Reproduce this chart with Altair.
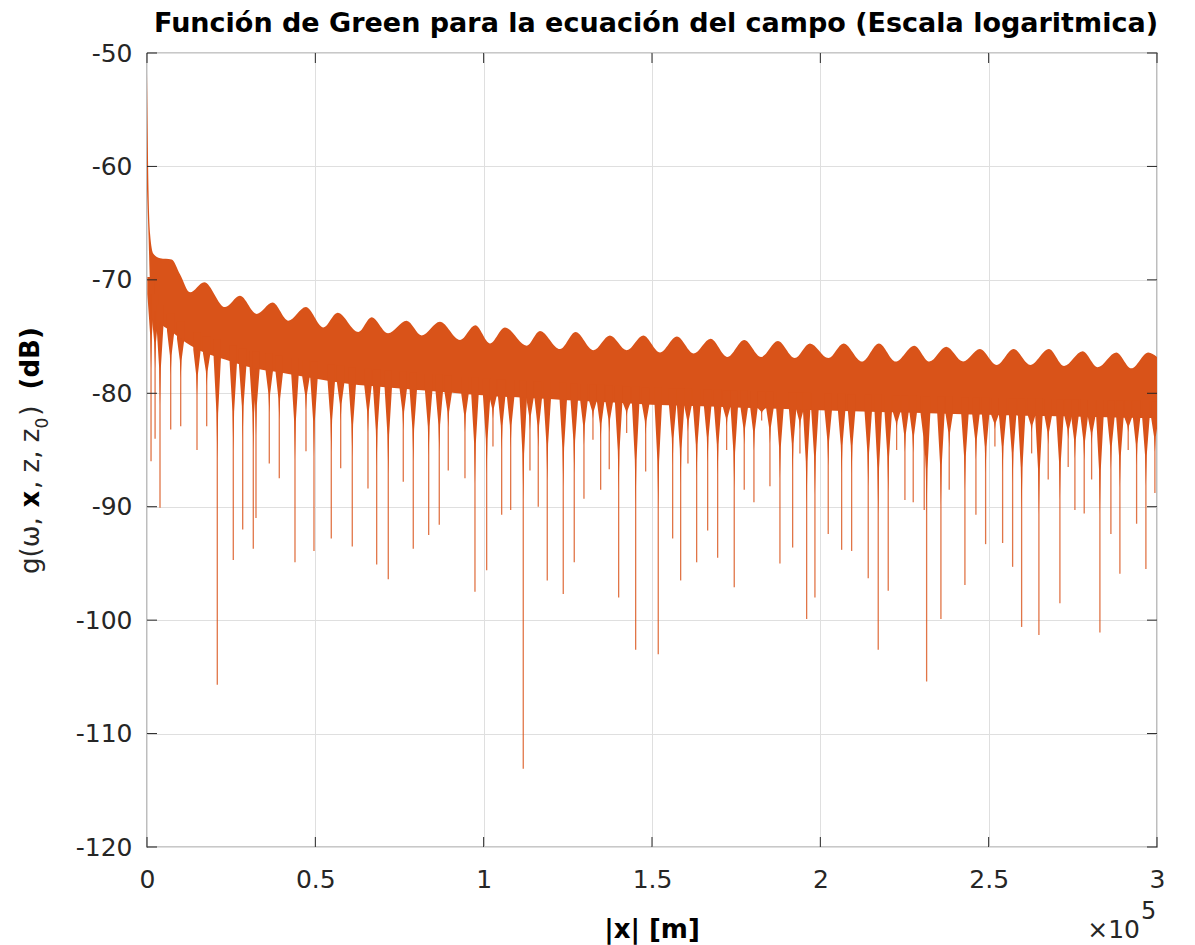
import altair as alt
import numpy as np
import pandas as pd

RED = "#D95319"
INK = "#262626"
GRID = "#DFDFDF"
FONT = "DejaVu Sans"

# axis ticks
x_ticks = [0, 50000, 100000, 150000, 200000, 250000, 300000]
y_ticks = [-120, -110, -100, -90, -80, -70, -60, -50]

# upper edge of the oscillating response (|x| in m, level in dB)
top_x = [0, 450, 900, 1900, 3900, 7300, 9800, 12800, 17000, 23200,
         27600, 32600, 37300, 42000, 47200, 52400, 56600, 62800, 66700, 71600,
         77100, 81600, 87000, 93000, 97500, 101900, 106300, 112800, 116700, 122700,
         127300, 132600, 137500, 142500, 147400, 152400, 157400, 162400, 167400, 172400,
         177400, 182400, 187400, 192400, 196900, 202400, 206900, 212400, 217400, 222400,
         227900, 232400, 237400, 242400, 247400, 252400, 257400, 262400, 267900, 272400,
         277900, 282400, 287900, 292400, 297400, 300000]
top_db = [-51.8, -62.1, -65.9, -67.7, -68.1, -68.2, -69.5, -71.1, -70.2, -72.4,
          -71.4, -73.0, -72.0, -73.6, -72.4, -74.2, -72.9, -74.6, -73.3, -74.7,
          -73.6, -74.9, -73.7, -75.3, -74.0, -75.6, -74.2, -75.8, -74.5, -76.1,
          -74.6, -76.2, -74.9, -76.2, -74.9, -76.4, -75.0, -76.5, -75.2, -76.8,
          -75.3, -76.8, -75.4, -76.9, -75.6, -76.9, -75.6, -77.2, -75.6, -77.2,
          -75.8, -77.2, -75.9, -77.2, -76.1, -77.5, -76.1, -77.5, -76.1, -77.6,
          -76.3, -77.7, -76.4, -77.8, -76.4, -76.8]

# lower edge of the solid part of the band
floor_x = [0, 1000, 3000, 10000, 15000, 30000, 60000, 100000, 150000, 200000, 250000, 300000]
floor_db = [-62.0, -71.0, -73.5, -75.2, -76.2, -77.7, -79.2, -80.2, -81.0, -81.5, -81.9, -82.2]

# interference nulls: position (m) and deepest level (dB)
dip_x = [1200, 2400, 3861, 7039, 10009, 14850, 17731, 20879, 25631, 28423,
         31571, 32373, 36323, 39293, 43956, 47223, 49599, 54737, 57529, 60974,
         65637, 68221, 71666, 76121, 79091, 83665, 86813, 89486, 94446, 97416,
         100891, 102762, 105346, 108019, 111761, 113751, 116216, 118889, 123641, 126908,
         129789, 132462, 134749, 137303, 140095, 142470, 145144, 148114, 151856, 156133,
         158509, 160677, 163261, 166528, 169498, 172170, 174428, 177398, 180279, 182566,
         185031, 188001, 191773, 193941, 195931, 198396, 202346, 206326, 209296, 214226,
         217196, 220166, 222660, 225126, 227591, 230858, 231571, 235818, 238283, 242946,
         246213, 249094, 251856, 254143, 257113, 259786, 262760, 264924, 267686, 271161,
         273621, 275616, 278378, 280577, 283041, 286308, 288981, 291448, 293941, 296703,
         299376]
dip_db = [-86.0, -84.0, -90.1, -83.2, -82.9, -85.0, -82.9, -105.7, -94.7, -92.0,
          -93.7, -91.0, -86.2, -87.5, -94.9, -85.1, -93.9, -92.8, -86.6, -93.5,
          -88.4, -95.1, -96.4, -87.8, -93.7, -92.5, -91.6, -86.8, -87.5, -97.5,
          -95.6, -84.7, -90.7, -90.3, -113.1, -86.8, -90.0, -96.5, -97.7, -94.9,
          -89.3, -84.1, -88.5, -86.7, -98.0, -83.5, -102.6, -86.9, -103.0, -92.8,
          -96.5, -86.2, -94.9, -92.1, -94.5, -85.0, -97.1, -88.5, -89.6, -82.4,
          -88.2, -95.0, -93.6, -85.3, -99.9, -98.0, -92.4, -93.8, -93.9, -96.3,
          -102.6, -97.4, -85.0, -89.4, -89.6, -90.3, -105.4, -99.9, -88.5, -96.9,
          -90.7, -93.3, -84.7, -93.2, -95.3, -100.6, -85.3, -101.3, -87.6, -98.5,
          -86.5, -90.3, -90.6, -87.6, -101.1, -92.4, -95.9, -85.0, -91.5, -95.5,
          -88.8]

W, H = 1010, 794

xs = alt.Scale(domain=[0, 300000], nice=False, zero=False)
ys = alt.Scale(domain=[-120, -50], nice=False, zero=False)

ax_x = alt.Axis(values=x_ticks, title=None, grid=True, gridColor=GRID, gridWidth=1,
                domain=False, ticks=False, labelFont=FONT, labelFontSize=25,
                labelColor=INK, labelPadding=20, labelFlush=False, labelOverlap=False,
                labelExpr="format(datum.value / 100000, '~g')")
ax_y = alt.Axis(values=y_ticks, title=None, grid=True, gridColor=GRID, gridWidth=1,
                domain=False, ticks=False, labelFont=FONT, labelFontSize=25,
                labelColor=INK, labelPadding=15, labelFlush=False, labelOverlap=False,
                labelExpr="'' + datum.value")


def X(field):
    return alt.X(field, type="quantitative", scale=xs, axis=ax_x)


def Y(field):
    return alt.Y(field, type="quantitative", scale=ys, axis=ax_y)


# solid band between the upper envelope and the floor
band = pd.DataFrame({"x": top_x, "hi": top_db,
                     "lo": np.interp(top_x, floor_x, floor_db)})
band_layer = alt.Chart(band).mark_area(color=RED, clip=True,
                                       interpolate="monotone").encode(
    x=X("x"), y=Y("hi"), y2="lo:Q")

# each null: a narrow wedge hanging from the band (deeper nulls get a longer
# wedge) plus a thin tail down to its minimum
rows = []
for i, (xv, m) in enumerate(zip(dip_x, dip_db)):
    base = float(np.interp(xv, floor_x, floor_db))
    knee = max(base + 0.45 * (m - base), base - 9.0)
    mid = base + 0.55 * (knee - base)
    for dx, yv in ((-1100, base), (-250, mid), (0, knee), (250, mid), (1100, base)):
        rows.append({"id": i, "x": xv + dx, "y": yv, "top": base + 1.5})
wedges = pd.DataFrame(rows)
wedge_layer = alt.Chart(wedges).mark_area(color=RED, clip=True).encode(
    x=X("x"), y=Y("y"), y2="top:Q", detail="id:N")

tails = pd.DataFrame({"x": dip_x, "y": dip_db,
                      "top": np.interp(dip_x, floor_x, floor_db)})
tail_layer = alt.Chart(tails).mark_rule(color=RED, strokeWidth=1.3, opacity=0.8,
                                         clip=True).encode(
    x=X("x"), y=Y("y"), y2="top:Q")

# inward tick marks on all four sides
xt = pd.DataFrame({"x": x_ticks})
yt = pd.DataFrame({"y": y_ticks})
tick_style = dict(color=INK, strokeWidth=1)
ticks = [
    alt.Chart(xt).mark_rule(**tick_style).encode(x=X("x"), y=alt.value(H), y2=alt.value(H - 10)),
    alt.Chart(xt).mark_rule(**tick_style).encode(x=X("x"), y=alt.value(0), y2=alt.value(10)),
    alt.Chart(yt).mark_rule(**tick_style).encode(y=Y("y"), x=alt.value(0), x2=alt.value(10)),
    alt.Chart(yt).mark_rule(**tick_style).encode(y=Y("y"), x=alt.value(W - 10), x2=alt.value(W)),
]

one = pd.DataFrame({"k": [0]})


def label(text, x, y, size=25, weight="normal", font=FONT, style="normal",
          angle=0, align="center", baseline="alphabetic"):
    return alt.Chart(one).mark_text(
        text=text, font=font, fontSize=size, fontWeight=weight, fontStyle=style,
        color="black" if weight == "bold" else INK, angle=angle, align=align,
        baseline=baseline).encode(x=alt.value(x), y=alt.value(y))


# rotated y title, laid out piece by piece from the bottom upwards
# (text, weight, size, baseline shift, advance, extra gap after the piece)
FS = 26
pieces = [
    ("g(ω, ", "normal", FS, 0, (0.635 + 0.390 + 0.781 + 0.318 + 0.318) * FS, 3),
    ("x", "bold", FS, 0, 0.712 * FS, 0),
    (", z, z", "normal", FS, 0, (0.318 * 4 + 0.525 * 2) * FS, 0),
    ("0", "normal", 17, 9, 0.636 * 17, 2),
    (") ", "normal", FS, 0, (0.390 + 0.318) * FS, 8),
    ("(dB)", "bold", FS, 0, (0.457 + 0.716 + 0.762 + 0.457) * FS, 0),
]
ytitle = []
pos = 574 - 53
for txt, wt, sz, shift, adv, gap in pieces:
    ytitle.append(label(txt, -108 + shift, pos, size=sz, weight=wt, angle=270, align="left"))
    pos -= adv + gap

texts = [
    label("Función de Green para la ecuación del campo (Escala logaritmica)",
          509, -21, size=27, weight="bold"),
    label("|x| [m]", 505, 885, size=26, weight="bold"),
    label("×10", 993, 885, align="right"),
    label("5", 994, 866, size=24, align="left"),
] + ytitle

chart = alt.layer(band_layer, wedge_layer, tail_layer, *ticks, *texts).properties(
    width=W, height=H,
    autosize=alt.AutoSizeParams(type="none"),
    padding={"left": 147, "top": 53, "right": 38, "bottom": 98},
    background="white",
).configure_view(stroke=INK, strokeWidth=1.2)

chart.save("out.html", embed_options={"renderer": "svg", "actions": False})
